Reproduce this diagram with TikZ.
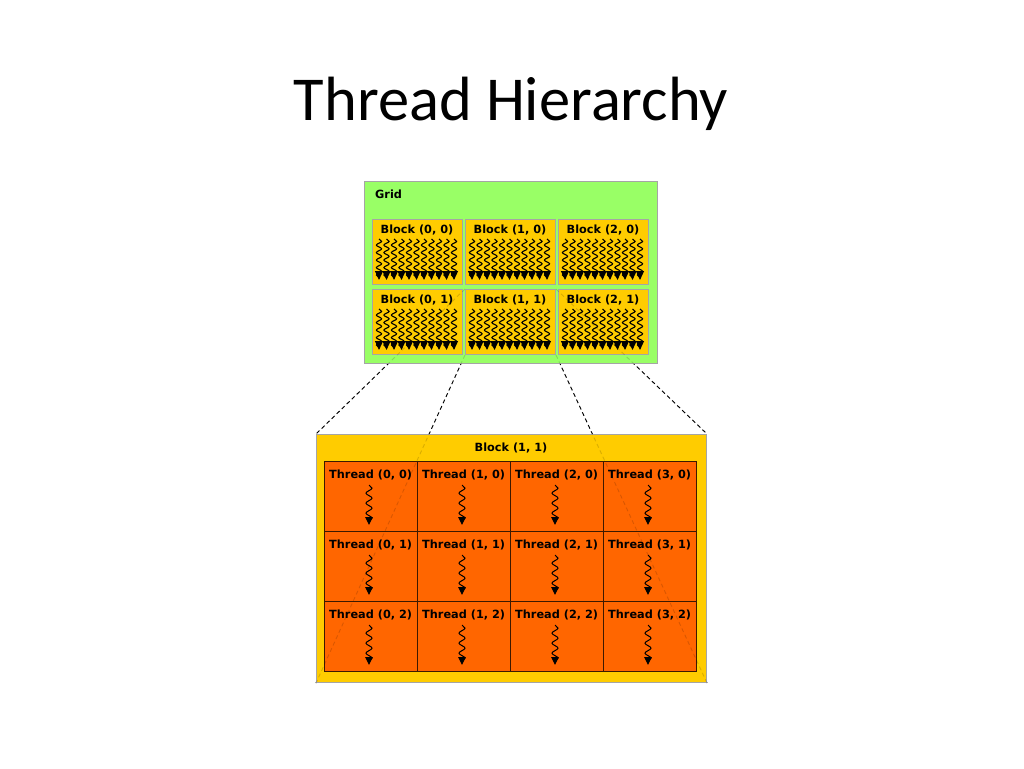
\documentclass[tikz,border=0pt]{standalone}
\usepackage{fontspec}
\setmainfont{Carlito}
\newfontfamily\dvs{DejaVu Sans}
\usetikzlibrary{decorations.pathmorphing,arrows.meta,backgrounds}
\definecolor{gridgreen}{RGB}{153,255,102}
\definecolor{blockyellow}{RGB}{255,204,0}
\definecolor{threadorange}{RGB}{255,102,0}
\definecolor{boxgray}{RGB}{165,165,165}
\definecolor{celledge}{RGB}{60,25,0}
\begin{document}
\begin{tikzpicture}[x=1pt,y=-1pt,
  gridbox/.style={draw=boxgray,fill=gridgreen,line width=1pt,inner sep=0,minimum width=293pt,minimum height=182pt,anchor=north west},
  blockbox/.style={draw=boxgray,fill=blockyellow,line width=1pt,inner sep=0,minimum width=90pt,minimum height=65pt,anchor=north west},
  bigblock/.style={draw=boxgray,fill=blockyellow,line width=1pt,inner sep=0,minimum width=390pt,minimum height=248pt,anchor=north west},
  cellbox/.style={draw=celledge,fill=threadorange,line width=1.2pt,inner sep=0,minimum width=93pt,minimum height=70pt,anchor=north west},
  lbl/.style={font=\dvs\bfseries\fontsize{11.3}{13}\selectfont,inner sep=0},
  title/.style={font=\fontsize{62.5}{74}\selectfont,inner sep=0,anchor=base},
  smallwave/.style={decorate,decoration={snake,amplitude=2.6pt,segment length=7.5pt,post length=1pt},line width=1.1pt,-{Triangle[width=8pt,length=9pt]}},
  bigwave/.style={decorate,decoration={snake,amplitude=3pt,segment length=10pt,post length=2pt},line width=1pt,-{Triangle[width=7.5pt,length=8pt]}},
  dashline/.style={line width=0.9pt,dash pattern=on 4pt off 3pt}
]
\useasboundingbox (0,0) rectangle (1024,768);

\node[title] (t) at (511,120) {Thread Hierarchy};

% Grid
\node[gridbox] (grid) at (364,181) {};
\node[lbl,anchor=west] (gl) at (375,194) {Grid};

\foreach \c/\x in {0/372,1/465,2/558}{
  \foreach \r/\y in {0/219,1/289}{
    \node[blockbox] (b\c\r) at (\x,\y) {};
    \node[lbl] (bl\c\r) at (\x+45,\y+11) {Block (\c, \r)};
    \foreach \i in {0,...,10}{
      \draw[smallwave] (\x+7+7.5*\i,\y+20) -- (\x+7+7.5*\i,\y+61);
    }
  }
}

% Big block
\node[bigblock] (bb) at (316,434) {};
\node[lbl] (bbl) at (511,448) {Block (1, 1)};
\foreach \c/\x in {0/324,1/417,2/510,3/603}{
  \foreach \r/\y in {0/461,1/531,2/601}{
    \node[cellbox] (c\c\r) at (\x,\y) {};
    \node[lbl,anchor=west] (cl\c\r) at (\x+5,\y+14) {Thread (\c, \r)};
    \draw[bigwave] (\x+45,\y+24) -- (\x+45,\y+64);
  }
}

\begin{pgfonlayer}{background}
  \fill[white] (0,0) rectangle (1024,768);
  \draw[dashline] (b11.north west) -- (bb.north west);
  \draw[dashline] (b11.south west) -- (bb.south west);
  \draw[dashline] (b11.north east) -- (bb.north east);
  \draw[dashline] (b11.south east) -- (bb.south east);
\end{pgfonlayer}
\draw[dashline,opacity=0.15] (b11.north west) -- (bb.north west);
\draw[dashline,opacity=0.15] (b11.south west) -- (bb.south west);
\draw[dashline,opacity=0.15] (b11.north east) -- (bb.north east);
\draw[dashline,opacity=0.15] (b11.south east) -- (bb.south east);
\end{tikzpicture}
\end{document}
